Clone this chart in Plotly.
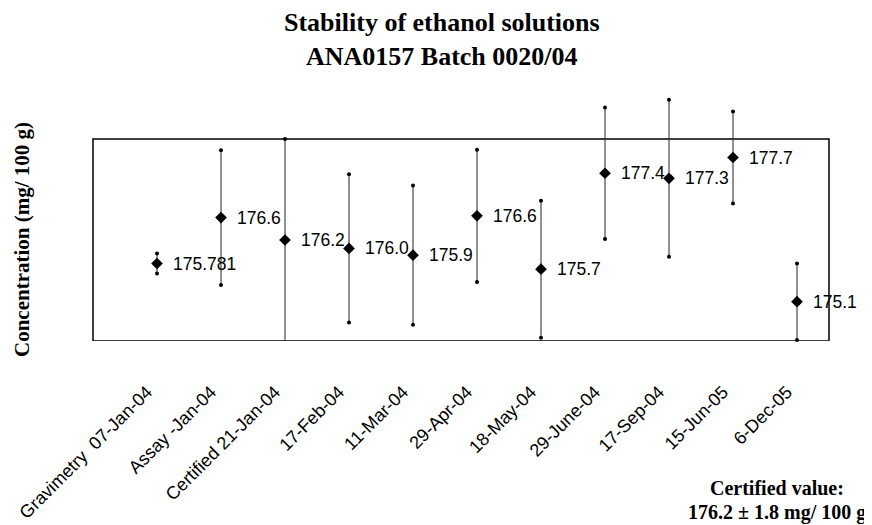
import plotly.graph_objects as go

# ---- data ----
categories = ["Gravimetry  07-Jan-04", "Assay -Jan-04", "Certified 21-Jan-04",
              "17-Feb-04", "11-Mar-04", "29-Apr-04", "18-May-04", "29-June-04",
              "17-Sep-04", "15-Jun-05", "6-Dec-05"]
values = [175.781, 176.6, 176.2, 176.05, 175.93, 176.63, 175.68, 177.39, 177.3, 177.67, 175.1]
uncert = [0.18, 1.2, 1.8, 1.32, 1.24, 1.18, 1.22, 1.17, 1.4, 0.82, 0.68]
value_labels = ["175.781", "176.6", "176.2", "176.0", "175.9", "176.6", "175.7",
                "177.4", "177.3", "177.7", "175.1"]
certified_value = 176.2
certified_unc = 1.8

title_lines = ["Stability of ethanol solutions", "ANA0157 Batch 0020/04"]
y_title = "Concentration (mg/ 100 g)"
note_lines = ["Certified value:", "176.2 \u00b1 1.8 mg/ 100 g"]

SANS = "Liberation Sans, Arial, sans-serif"
SERIF = "Liberation Serif, Times New Roman, serif"

fig = go.Figure()

# error bars
fig.add_trace(go.Scatter(
    x=categories, y=values, mode="markers",
    marker=dict(symbol="diamond", size=9, color="black"),
    error_y=dict(type="data", array=uncert, visible=True, width=0,
                 thickness=1, color="#222222"),
    cliponaxis=False, showlegend=False, hoverinfo="skip"))

# cap dots at both ends of each bar
cap_x = categories + categories
cap_y = [v + u for v, u in zip(values, uncert)] + [v - u for v, u in zip(values, uncert)]
fig.add_trace(go.Scatter(
    x=cap_x, y=cap_y, mode="markers",
    marker=dict(symbol="circle", size=4, color="black"),
    cliponaxis=False, showlegend=False, hoverinfo="skip"))

# certified range box
fig.add_shape(type="rect", xref="paper", x0=0, x1=1, yref="y",
              y0=certified_value - certified_unc, y1=certified_value + certified_unc,
              line=dict(color="black", width=1.5), layer="below")

# data labels
for c, v, t in zip(categories, values, value_labels):
    fig.add_annotation(x=c, y=v, text=t, showarrow=False, xanchor="left",
                       yanchor="middle", xshift=14,
                       font=dict(family=SANS, size=17.5, color="black"))

# helper: convert reference-pixel positions to paper coords of the plot area
def px(xp):
    return (xp - 93) / 736


def py(yp):
    return (341 - yp) / 251


fig.add_annotation(xref="paper", yref="paper", x=px(442), y=py(22),
                   text="<b>%s</b>" % title_lines[0], showarrow=False,
                   xanchor="center", yanchor="middle",
                   font=dict(family=SERIF, size=26, color="black"))
fig.add_annotation(xref="paper", yref="paper", x=px(442), y=py(57),
                   text="<b>%s</b>" % title_lines[1], showarrow=False,
                   xanchor="center", yanchor="middle",
                   font=dict(family=SERIF, size=26, color="black"))
fig.add_annotation(xref="paper", yref="paper", x=px(22), y=py(240),
                   text="<b>%s</b>" % y_title, showarrow=False, textangle=-90,
                   xanchor="center", yanchor="middle",
                   font=dict(family=SERIF, size=21, color="black"))
fig.add_annotation(xref="paper", yref="paper", x=px(777), y=py(488),
                   text="<b>%s</b>" % note_lines[0], showarrow=False,
                   xanchor="center", yanchor="middle",
                   font=dict(family=SERIF, size=20, color="black"))
fig.add_annotation(xref="paper", yref="paper", x=px(777), y=py(513),
                   text="<b>%s</b>" % note_lines[1], showarrow=False,
                   xanchor="center", yanchor="middle",
                   font=dict(family=SERIF, size=20, color="black"))

# the page body has an 8px margin, so the figure is 8px smaller and all
# margins are 8px less on the top/left
fig.update_layout(
    width=864, height=517,
    margin=dict(l=85, r=43, t=82, b=184, pad=0, autoexpand=False),
    paper_bgcolor="white", plot_bgcolor="white",
    showlegend=False,
    xaxis=dict(type="category", categoryorder="array", categoryarray=categories,
               range=[-1, 10.5], showgrid=False, zeroline=False, showline=False,
               automargin=False,
               ticks="", tickangle=-45, ticklabelstandoff=36, ticklabelshift=-10,
               tickfont=dict(family=SANS, size=18, color="black")),
    yaxis=dict(range=[174.4, 174.4 + 251 / 56.11], visible=False,
               automargin=False, showgrid=False, zeroline=False),
)

fig.write_html("out.html")
